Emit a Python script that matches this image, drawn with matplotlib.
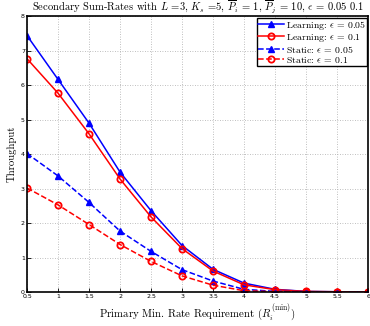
import matplotlib
matplotlib.use("Agg")
import matplotlib.pyplot as plt
import numpy as np

# min rate requirement values
r_min = [0.5, 1, 1.5, 2, 2.5, 3, 3.5, 4, 4.5, 5, 5.5, 6]
learn_005 = [7.44, 6.17, 4.9, 3.48, 2.36, 1.35, 0.66, 0.26, 0.08, 0.02, 0.01, 0.0]
learn_01 = [6.77, 5.77, 4.59, 3.28, 2.18, 1.26, 0.61, 0.21, 0.07, 0.02, 0.01, 0.0]
static_005 = [4.02, 3.37, 2.6, 1.77, 1.18, 0.65, 0.32, 0.08, 0.02, 0.01, 0.0, 0.0]
static_01 = [3.02, 2.53, 1.96, 1.38, 0.89, 0.47, 0.2, 0.04, 0.01, 0.0, 0.0, 0.0]
xticks = [0.5, 1, 1.5, 2, 2.5, 3, 3.5, 4, 4.5, 5, 5.5, 6]
xticklabels = ["0.5", "1", "1.5", "2", "2.5", "3", "3.5", "4", "4.5", "5", "5.5", "6"]

plt.rcParams["mathtext.fontset"] = "cm"
plt.rcParams["font.family"] = ["cmr10", "DejaVu Serif"]
plt.rcParams["axes.formatter.use_mathtext"] = True

fig = plt.figure(figsize=(3.70, 3.26), dpi=100)
ax = fig.add_axes([0.073, 0.104, 0.922, 0.846])

ax.plot(r_min, learn_005, "-^", color="blue", lw=1.1, ms=4.5, mfc="blue",
        label=r"Learning: $\epsilon$ = 0.05")
ax.plot(r_min, learn_01, "-o", color="red", lw=1.1, ms=4.5, mfc="none", mew=1.3,
        label=r"Learning: $\epsilon$ = 0.1")
ax.plot(r_min, static_005, "--^", color="blue", lw=1.1, ms=4.5, mfc="blue",
        label=r"Static: $\epsilon$ = 0.05")
ax.plot(r_min, static_01, "--o", color="red", lw=1.1, ms=4.5, mfc="none", mew=1.3,
        label=r"Static: $\epsilon$ = 0.1")

ax.set_xlim(0.5, 6)
ax.set_ylim(0, 8)
ax.set_xticks(xticks)
ax.set_xticklabels(xticklabels, family="DejaVu Sans", fontsize=4.5)
ax.set_yticks(range(9))
ax.set_yticklabels([str(i) for i in range(9)], family="DejaVu Sans", fontsize=4.5)
ax.tick_params(direction="in", length=3, width=0.6, pad=1.5)
ax.grid(True, color="#aaaaaa", linestyle=(0, (1, 2)), linewidth=0.6)
for s in ax.spines.values():
    s.set_linewidth(1.2)

ax.set_title(r"Secondary Sum-Rates with $L$ =3, $K_s$ =5, $\overline{P}_i$ = 1, $\overline{P}_j$ = 10, $\epsilon$ = 0.05 0.1",
             fontsize=7.6, pad=3)
ax.set_xlabel(r"Primary Min. Rate Requirement ($R_i^{(\mathrm{min})}$)", fontsize=7.8, labelpad=2)
ax.set_ylabel("Throughput", fontsize=7.8, labelpad=3)

leg = ax.legend(loc="upper right", fontsize=7.0, fancybox=False, edgecolor="black",
                borderpad=0.1, labelspacing=0.0, handlelength=2.6, handletextpad=0.2,
                borderaxespad=0.15, framealpha=1)
leg.get_frame().set_linewidth(1.0)

plt.savefig("out.png", dpi=100)
